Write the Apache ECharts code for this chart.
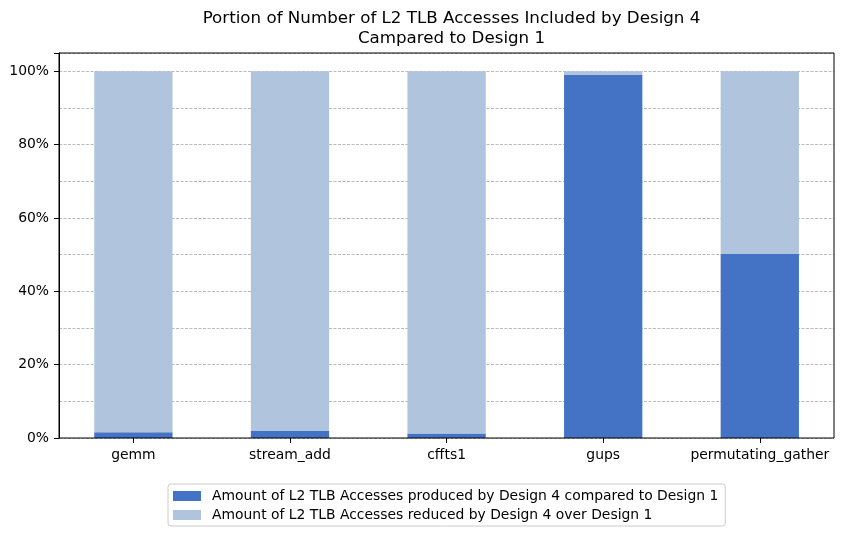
<!DOCTYPE html>
<html><head><meta charset="utf-8">
<script src="https://cdn.jsdelivr.net/npm/echarts@6/dist/echarts.min.js"></script>
<style>html,body{margin:0;padding:0;background:#fff}#c{width:844px;height:539px}</style>
</head><body><div id="c"></div>
<script>
const categories = ['gemm', 'stream_add', 'cffts1', 'gups', 'permutating_gather'];
const produced = [1.6, 1.9, 1.2, 99.0, 50.2];
const reduced = [98.4, 98.1, 98.8, 1.0, 49.8];
const seriesNames = ['Amount of L2 TLB Accesses produced by Design 4 compared to Design 1',
                     'Amount of L2 TLB Accesses reduced by Design 4 over Design 1'];
const titleText = 'Portion of Number of L2 TLB Accesses Included by Design 4\nCampared to Design 1';

const FONT = 'DejaVu Sans';
const chart = echarts.init(document.getElementById('c'), null, {renderer: 'canvas'});
chart.setOption({
  animation: false,
  textStyle: {fontFamily: FONT},
  title: {
    text: titleText, left: 446.5, textAlign: 'center', top: 4,
    textStyle: {fontFamily: FONT, fontSize: 16.7, fontWeight: 'normal', color: '#000', lineHeight: 20}
  },
  grid: [
    // bar grid: category bands sized like matplotlib's 5% x-margins
    {left: 55.1, right: 5.9, top: 53, bottom: 101, containLabel: false},
    // frame grid: the visible axes box
    {left: 59, right: 10, top: 53, bottom: 101, show: true, borderColor: '#000', borderWidth: 1, containLabel: false, z: 3}
  ],
  legend: {
    orient: 'vertical', left: 168, top: 484,
    itemWidth: 28, itemHeight: 10, itemGap: 5,
    padding: [5, 7, 4, 5],
    borderColor: '#cccccc', borderWidth: 1, borderRadius: 3,
    textStyle: {fontFamily: FONT, fontSize: 13.9, color: '#000', padding: [0, 0, 0, 6]},
    icon: 'rect'
  },
  xAxis: [
    {
      gridIndex: 0, type: 'category', data: categories,
      axisLine: {show: false},
      axisTick: {show: true, alignWithLabel: true, length: 5, lineStyle: {color: '#000'}},
      axisLabel: {interval: 0, fontFamily: FONT, fontSize: 13.9, color: '#000', margin: 10}
    },
    {gridIndex: 1, type: 'value', min: 0, max: 1, show: false}
  ],
  yAxis: [
    {gridIndex: 0, type: 'value', min: 0, max: 105, show: false},
    {
      gridIndex: 1, type: 'value', min: 0, max: 105, interval: 20,
      axisLine: {show: true, lineStyle: {color: '#000', width: 1}},
      axisTick: {show: true, length: 5, lineStyle: {color: '#000'}},
      axisLabel: {fontFamily: FONT, fontSize: 13.9, color: '#000', margin: 10,
        formatter: v => v <= 100 ? v + '%' : ''},
      splitLine: {show: true, lineStyle: {color: '#8c8c8c', type: [3, 1.5], width: 0.6}},
      minorTick: {show: false, splitNumber: 2},
      minorSplitLine: {show: true, lineStyle: {color: '#8c8c8c', type: [3, 1.5], width: 0.6}}
    }
  ],
  series: [
    {name: seriesNames[0], type: 'bar', xAxisIndex: 0, yAxisIndex: 0, stack: 's', data: produced,
     barWidth: '50%', itemStyle: {color: '#4472C4'}, z: 2},
    {name: seriesNames[1], type: 'bar', xAxisIndex: 0, yAxisIndex: 0, stack: 's', data: reduced,
     barWidth: '50%', itemStyle: {color: '#B0C4DE'}, z: 2}
  ]
});
</script></body></html>
